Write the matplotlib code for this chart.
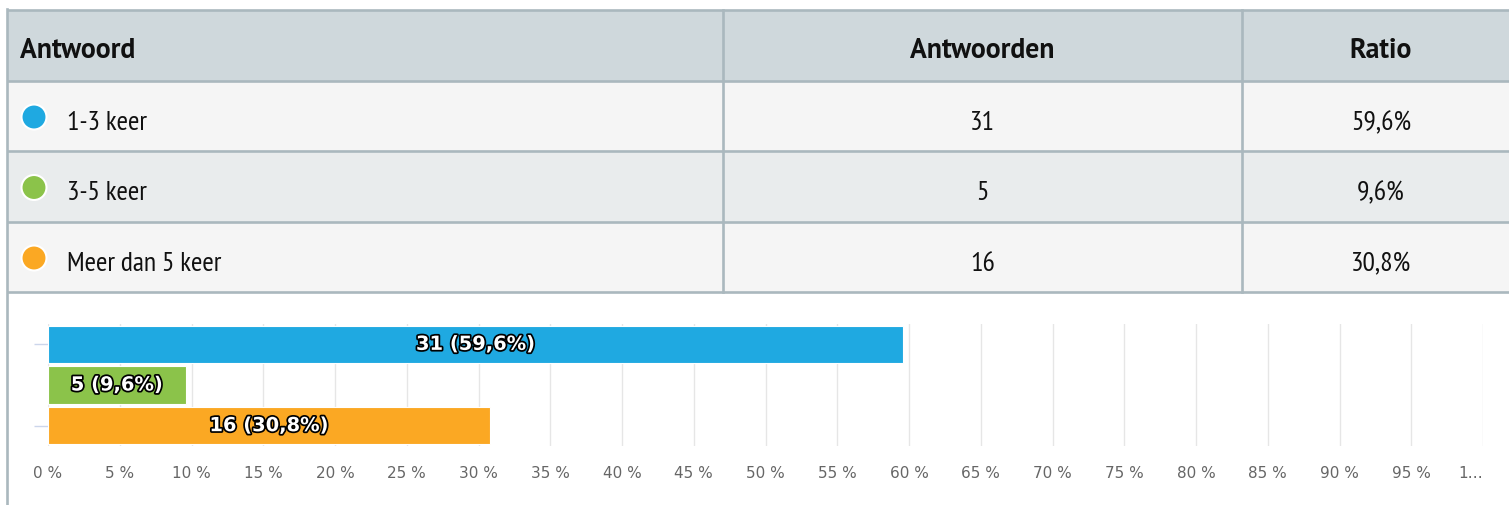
import matplotlib
matplotlib.use("Agg")
import matplotlib.pyplot as plt
from matplotlib.patches import Rectangle, Circle
import matplotlib.patheffects as pe

# ---------------- data ----------------
categories = ["1-3 keer", "3-5 keer", "Meer dan 5 keer"]
counts = [31, 5, 16]
ratios = [59.6, 9.6, 30.8]
colors = ["#1fa9e1", "#8bc34a", "#fba823"]
headers = ["Antwoord", "Antwoorden", "Ratio"]
x_ticks = list(range(0, 101, 5))
x_tick_labels = [f"{v} %" for v in range(0, 100, 5)] + ["1…"]

def fmt_pct(v):
    return f"{v:.1f}".replace(".", ",") + "%"

W, H = 1509, 506
fig = plt.figure(figsize=(W / 100, H / 100), dpi=100)
fig.patch.set_facecolor("white")

# ---------------- table (pixel coordinates) ----------------
bg = fig.add_axes([0, 0, 1, 1])
bg.set_xlim(0, W)
bg.set_ylim(H, 0)
bg.axis("off")

border = "#aab8be"
table_font = ["PT Sans Narrow", "DejaVu Sans"]
header_font = ["PT Sans", "PT Sans Narrow", "DejaVu Sans"]
left, right = 7, 1520
col_x = [left, 723, 1242, right]
row_y = [11, 82, 152, 223, 293]
row_bg = ["#cfd8dc", "#f5f5f5", "#e9eced", "#f5f5f5"]

for i in range(4):
    bg.add_patch(Rectangle((left, row_y[i]), right - left, row_y[i + 1] - row_y[i],
                           facecolor=row_bg[i], edgecolor="none", zorder=1))
for y in row_y:
    bg.plot([left, right], [y, y], color=border, lw=1.9, zorder=3, solid_capstyle="butt")
for x in col_x[1:3]:
    bg.plot([x, x], [row_y[0], row_y[-1]], color=border, lw=1.9, zorder=3)
bg.plot([left, left], [row_y[0] - 1, H], color=border, lw=1.9, zorder=3)

fs_tab = 20
col_centers = [(col_x[1] + col_x[2]) / 2, (col_x[2] + col_x[3]) / 2]
hdr_kw = dict(fontsize=fs_tab, fontweight="bold", family=header_font,
              va="baseline", color="#111111", zorder=4)
bg.text(20, row_y[0] + 47, headers[0], ha="left", **hdr_kw)
bg.text(col_centers[0], row_y[0] + 47, headers[1], ha="center", **hdr_kw)
bg.text(col_centers[1], row_y[0] + 47, headers[2], ha="center", **hdr_kw)

for i, (cat, n, r, c) in enumerate(zip(categories, counts, ratios, colors)):
    top = row_y[i + 1]
    mid = (row_y[i + 1] + row_y[i + 2]) / 2
    bg.add_patch(Circle((34, mid + 1), 12.5, facecolor=c, edgecolor="white", lw=1.5, zorder=4))
    kw = dict(fontsize=fs_tab, family=table_font, va="baseline", color="#111111", zorder=4)
    bg.text(67, top + 48, cat, ha="left", **kw)
    bg.text(col_centers[0], top + 48, str(n), ha="center", **kw)
    bg.text(col_centers[1], top + 48, fmt_pct(r), ha="center", **kw)

# ---------------- bar chart ----------------
ax_l, ax_r, ax_t, ax_b = 48, 1483, 325, 447
ax = fig.add_axes([ax_l / W, (H - ax_b) / H, (ax_r - ax_l) / W, (ax_b - ax_t) / H])
ax.set_facecolor("none")
ypos = list(range(len(categories)))
ax.barh(ypos, ratios, height=0.91, color=colors, edgecolor="white", lw=0.8, zorder=3)
ax.set_xlim(0, 100)
ax.set_ylim(len(categories) - 0.5, -0.5)
for s in ax.spines.values():
    s.set_visible(False)
ax.set_xticks(x_ticks)
ax.set_xticklabels(x_tick_labels, fontsize=11, color="#666666")
ax.get_xticklabels()[-1].set_horizontalalignment("right")
ax.tick_params(axis="x", length=0, pad=14)
ax.grid(axis="x", color="#e6e6e6", lw=1.0, zorder=0)
ax.set_yticks([0, 2])
ax.set_yticklabels([])
ax.tick_params(axis="y", length=10, color="#ccd6eb", width=1)

for y, n, r in zip(ypos, counts, ratios):
    ax.text(r / 2, y, f"{n} ({fmt_pct(r)})", ha="center", va="center",
            fontsize=14, fontweight="bold", color="white", zorder=5,
            path_effects=[pe.withStroke(linewidth=2.5, foreground="black")])

fig.savefig("out.png", dpi=100, facecolor="white")
